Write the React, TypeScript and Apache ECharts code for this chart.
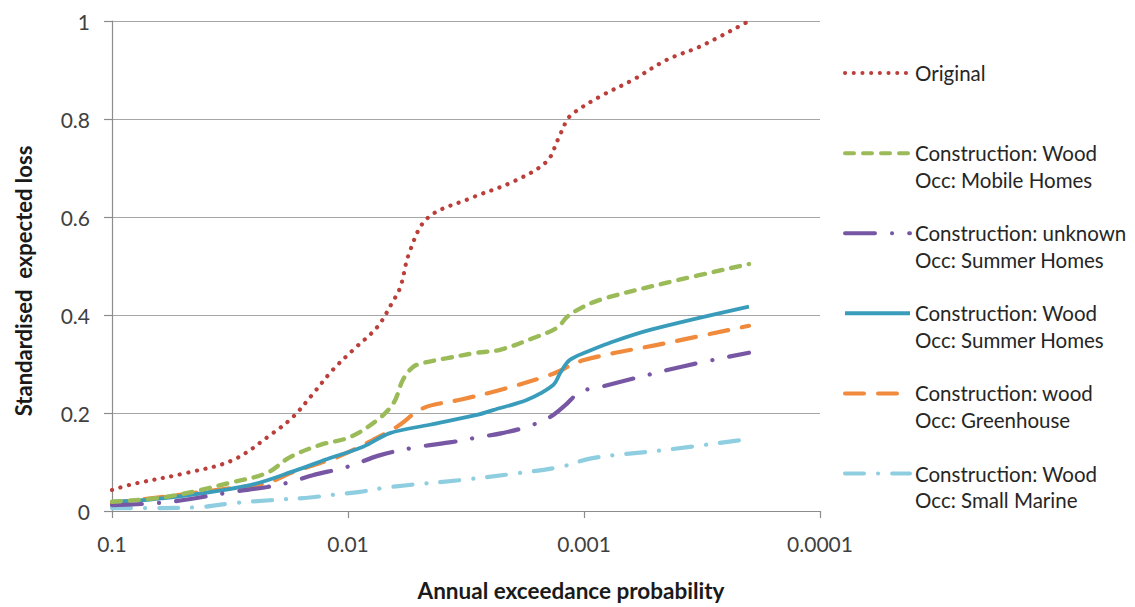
import React, { useEffect, useRef } from "react";
import * as echarts from "echarts";

// [annual exceedance probability, standardised expected loss]
const originalData: [number, number][] = [
  [0.1, 0.043], [0.0815, 0.055], [0.0481, 0.078], [0.0307, 0.104], [0.0208, 0.159],
  [0.0171, 0.192], [0.0142, 0.237], [0.0116, 0.288], [0.0095, 0.329], [0.0075, 0.376],
  [0.0065, 0.425], [0.006, 0.457], [0.0055, 0.527], [0.0046, 0.598], [0.003, 0.639],
  [0.002, 0.672], [0.00144, 0.713], [0.00129, 0.758], [0.00118, 0.798], [0.00111, 0.812],
  [0.000855, 0.846], [0.00062, 0.88], [0.000445, 0.921], [0.000322, 0.948], [0.0002, 1.0],
];
const mobileHomesData: [number, number][] = [
  [0.1, 0.019], [0.0585, 0.029], [0.0307, 0.059], [0.022, 0.078], [0.0176, 0.11],
  [0.0131, 0.135], [0.0098, 0.151], [0.0075, 0.186], [0.0064, 0.221], [0.00585, 0.268],
  [0.0053, 0.294], [0.0048, 0.302], [0.0038, 0.312], [0.00284, 0.323], [0.00227, 0.329],
  [0.00164, 0.353], [0.0013, 0.374], [0.00118, 0.396], [0.00107, 0.41], [0.000855, 0.431],
  [0.000445, 0.466], [0.0002, 0.504],
];
const unknownSummerData: [number, number][] = [
  [0.1, 0.012], [0.0585, 0.018], [0.0307, 0.039], [0.022, 0.049], [0.0176, 0.059],
  [0.0141, 0.073], [0.0101, 0.09], [0.0073, 0.114], [0.0053, 0.129], [0.00359, 0.141],
  [0.00276, 0.151], [0.00222, 0.159], [0.00174, 0.172], [0.00139, 0.192], [0.0012, 0.216],
  [0.00104, 0.243], [0.000855, 0.253], [0.00039, 0.294], [0.0002, 0.323],
];
const woodSummerData: [number, number][] = [
  [0.1, 0.019], [0.0585, 0.027], [0.026, 0.053], [0.0164, 0.084], [0.0119, 0.108],
  [0.00863, 0.131], [0.00664, 0.159], [0.0045, 0.176], [0.00284, 0.196], [0.00243, 0.206],
  [0.00174, 0.227], [0.00135, 0.257], [0.00126, 0.282], [0.00115, 0.308], [0.00097, 0.325],
  [0.00078, 0.343], [0.00052, 0.37], [0.0002, 0.417],
];
const greenhouseData: [number, number][] = [
  [0.1, 0.016], [0.0307, 0.047], [0.022, 0.057], [0.0176, 0.077], [0.0131, 0.098],
  [0.0111, 0.11], [0.0083, 0.139], [0.0062, 0.172], [0.0048, 0.21], [0.00335, 0.227],
  [0.00227, 0.247], [0.00139, 0.278], [0.001, 0.308], [0.000445, 0.343], [0.0002, 0.378],
];
const smallMarineData: [number, number][] = [
  [0.1, 0.006], [0.069, 0.006], [0.0424, 0.008], [0.0307, 0.016], [0.0214, 0.022],
  [0.0149, 0.027], [0.0116, 0.033], [0.0089, 0.039], [0.0071, 0.047], [0.0055, 0.053],
  [0.00335, 0.063], [0.00206, 0.075], [0.00126, 0.09], [0.00092, 0.108], [0.000445, 0.125],
  [0.0002, 0.147],
];

const seriesNames = [
  "Original",
  "Construction: Wood\nOcc: Mobile Homes",
  "Construction: unknown\nOcc: Summer Homes",
  "Construction: Wood\nOcc: Summer Homes",
  "Construction: wood\nOcc: Greenhouse",
  "Construction: Wood\nOcc: Small Marine",
];
const seriesColors = ["#BA3F3B", "#9BBB59", "#7757A3", "#3A9CBB", "#F08B3D", "#8FCEE0"];
const seriesDash: (number[] | "solid")[] = [
  [0.1, 8.6],
  [9, 9],
  [30, 17, 0.1, 17],
  "solid",
  [19, 14],
  [19, 14, 0.1, 14],
];
const seriesWidth = [4.2, 4.4, 4.2, 3.8, 4.2, 4.2];
const seriesData = [
  originalData, mobileHomesData, unknownSummerData, woodSummerData, greenhouseData, smallMarineData,
];

const yTicks = { min: 0, max: 1, interval: 0.2 };
const xRange = { min: 0.0001, max: 0.1 };

const FONT = "Lato";

export default function App() {
  const ref = useRef<HTMLDivElement>(null);
  useEffect(() => {
    const chart = echarts.init(ref.current!, undefined, { renderer: "svg" });
    chart.setOption({
      animation: false,
      backgroundColor: "#ffffff",
      textStyle: { fontFamily: FONT },
      grid: { left: 112, right: 315, top: 21, bottom: 96, containLabel: false },
      xAxis: {
        type: "log",
        logBase: 10,
        min: xRange.min,
        max: xRange.max,
        inverse: true,
        axisLine: { show: true, lineStyle: { color: "#8C8C8C", width: 1.2 } },
        axisTick: { show: true, length: 7, lineStyle: { color: "#8C8C8C", width: 1.2 } },
        axisLabel: {
          fontSize: 21,
          color: "#404040",
          fontFamily: FONT,
          margin: 22,
          formatter: (v: number) => String(Number(v.toPrecision(1))),
        },
        splitLine: { show: false },
        minorTick: { show: false },
      },
      yAxis: {
        type: "value",
        min: yTicks.min,
        max: yTicks.max,
        interval: yTicks.interval,
        axisLine: { show: true, lineStyle: { color: "#8C8C8C", width: 1.2 } },
        axisTick: { show: true, length: 8, lineStyle: { color: "#8C8C8C", width: 1.2 } },
        axisLabel: { fontSize: 21, color: "#404040", fontFamily: FONT, margin: 22 },
        splitLine: { show: true, lineStyle: { color: "#A6A6A6", width: 1.2 } },
      },
      legend: {
        orient: "vertical",
        left: 843,
        top: 33,
        padding: 0,
        itemWidth: 65,
        itemHeight: 14,
        itemGap: 0,
        selectedMode: false,
        itemStyle: { opacity: 0 },
        lineStyle: { width: 4 },
        textStyle: { fontSize: 20.5, color: "#262626", fontFamily: FONT, lineHeight: 26.7 },
        formatter: (name: string) => (name.indexOf("\n") >= 0 ? "\n" + name : "\n" + name + "\n"),
        data: seriesNames,
      },
      graphic: [
        {
          type: "text",
          x: 571,
          y: 590,
          style: {
            text: "Annual exceedance probability",
            font: `bold 22.5px ${FONT}`,
            fill: "#1a1a1a",
            align: "center",
            verticalAlign: "middle",
          },
        },
        {
          type: "text",
          x: 23,
          y: 281,
          rotation: Math.PI / 2,
          style: {
            text: "Standardised  expected loss",
            font: `bold 22px ${FONT}`,
            fill: "#1a1a1a",
            align: "center",
            verticalAlign: "middle",
          },
        },
      ],
      series: seriesNames.map((name, i) => ({
        name,
        type: "line",
        data: seriesData[i],
        symbol: "none",
        smooth: 0.35,
        color: seriesColors[i],
        lineStyle: {
          color: seriesColors[i],
          width: seriesWidth[i],
          type: seriesDash[i],
          cap: i === 3 ? "butt" : "round",
        },
        z: 10 - i,
      })),
    });
    return () => chart.dispose();
  }, []);
  return (
    <div
      ref={ref}
      style={{ position: "fixed", left: 0, top: 0, width: 1135, height: 607 }}
    />
  );
}
